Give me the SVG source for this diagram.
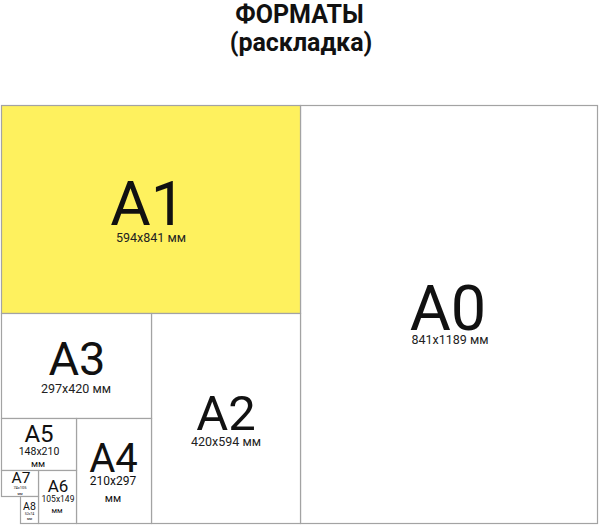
<svg xmlns="http://www.w3.org/2000/svg" width="600" height="528" viewBox="0 0 600 528">
<style>
text{font-family:Roboto,"Liberation Sans",sans-serif;fill:#111;text-anchor:middle}
.t{font-weight:bold;font-size:25px}
.sheet{fill:#fff;stroke:#a3a3a3;stroke-width:1.2}
.a1{fill:#fef15e}
.sub{font-size:12.5px;fill:#222}
</style>
<rect width="600" height="528" fill="#fff"/>
<g id="title">
<text class="t" x="299.5" y="23">ФОРМАТЫ</text>
<text class="t" x="301" y="51">(раскладка)</text>
</g>
<g id="A0">
<rect class="sheet" x="300.5" y="105.5" width="297" height="418"/>
<text x="448" y="330" font-size="63">A0</text>
<text class="sub" x="450" y="344">841x1189 мм</text>
</g>
<g id="A1">
<rect class="sheet a1" x="1.5" y="105.5" width="299" height="208"/>
<text x="148" y="225" font-size="62">A1</text>
<text class="sub" x="151" y="242">594x841 мм</text>
</g>
<g id="A2">
<rect class="sheet" x="151.5" y="313.5" width="149" height="210"/>
<text x="226" y="430" font-size="49">A2</text>
<text class="sub" x="226" y="446">420x594 мм</text>
</g>
<g id="A3">
<rect class="sheet" x="1.5" y="313.5" width="150" height="105"/>
<text x="77" y="375" font-size="47">A3</text>
<text class="sub" x="76" y="393">297x420 мм</text>
</g>
<g id="A4">
<rect class="sheet" x="76.5" y="418.5" width="75" height="105"/>
<text x="113.5" y="472" font-size="40">A4</text>
<text x="113" y="485" font-size="12" fill="#222">210x297</text>
<text x="113" y="502" font-size="11" fill="#222">мм</text>
</g>
<g id="A5">
<rect class="sheet" x="1.5" y="418.5" width="75" height="52"/>
<text x="39" y="442" font-size="24">A5</text>
<text x="39" y="455" font-size="10.5" fill="#222">148x210</text>
<text x="38" y="467" font-size="9.5" fill="#222">мм</text>
</g>
<g id="A6">
<rect class="sheet" x="38.5" y="470.5" width="38" height="53"/>
<text x="58" y="492" font-size="17">A6</text>
<text x="58" y="502" font-size="8.5" fill="#222">105x149</text>
<text x="57" y="513" font-size="7.5" fill="#222">мм</text>
</g>
<g id="A7">
<rect class="sheet" x="1.5" y="470.5" width="37" height="26"/>
<text x="21" y="483" font-size="15.5">A7</text>
<text x="20" y="489" font-size="4" fill="#444">74x105</text>
<text x="20" y="495" font-size="3.5" fill="#444">мм</text>
</g>
<g id="A8">
<rect class="sheet" x="20.5" y="496.5" width="18" height="27"/>
<text x="29.5" y="510" font-size="10.5">A8</text>
<text x="29.5" y="515" font-size="3.5" fill="#444">52x74</text>
<text x="29.5" y="520" font-size="3.5" fill="#444">мм</text>
</g>
<g id="connectors"></g>
</svg>
